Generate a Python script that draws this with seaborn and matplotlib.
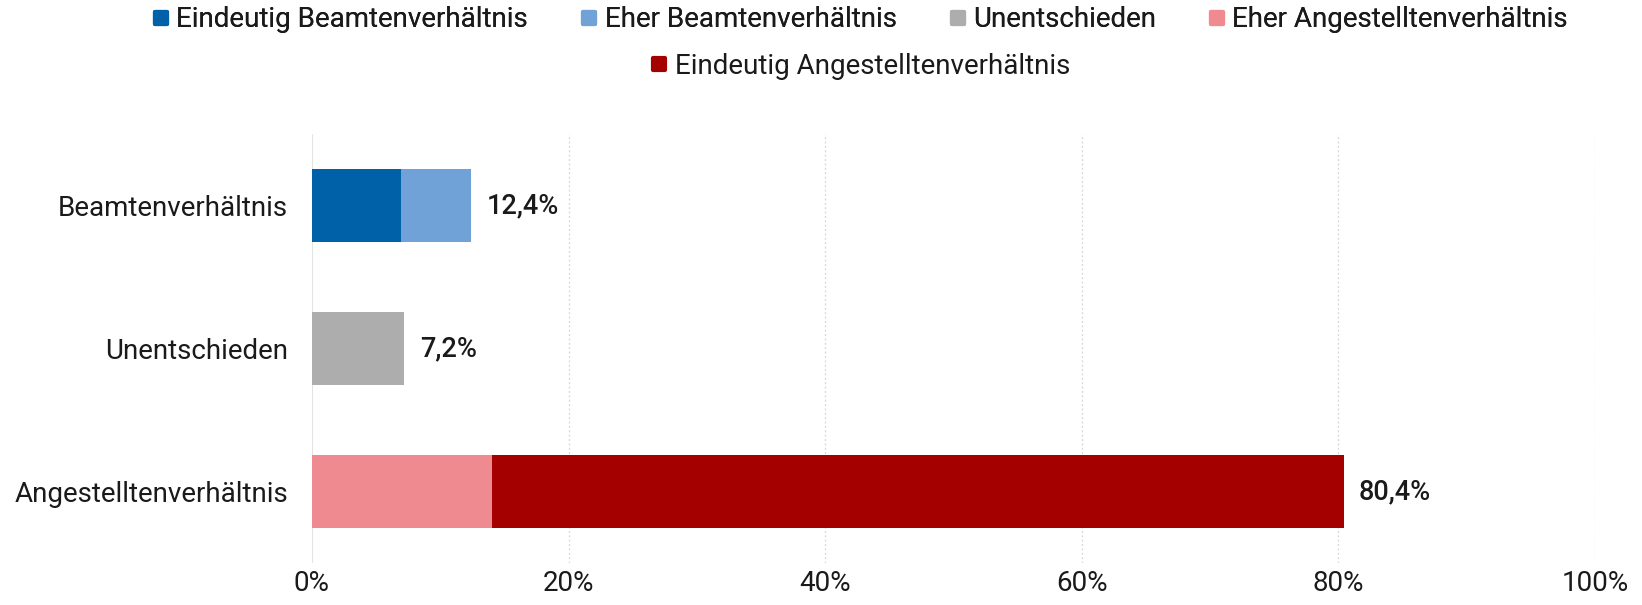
import seaborn as sns
import matplotlib.pyplot as plt
from matplotlib.lines import Line2D
from matplotlib.markers import MarkerStyle
from matplotlib.ticker import PercentFormatter

# chart data
categories = ['Beamtenverhältnis', 'Unentschieden', 'Angestelltenverhältnis']
series_names = ['Eindeutig Beamtenverhältnis', 'Eher Beamtenverhältnis', 'Unentschieden',
                'Eher Angestelltenverhältnis', 'Eindeutig Angestelltenverhältnis']
eindeutig_beamten = [6.9, 0, 0]
eher_beamten = [5.5, 0, 0]
unentschieden = [0, 7.2, 0]
eher_angestellten = [0, 0, 14.0]
eindeutig_angestellten = [0, 0, 66.4]
totals = ['12,4%', '7,2%', '80,4%']
colors = ['#0060a8', '#70a1d7', '#adadad', '#f08a91', '#a50000']

sns.set_theme(style='white')
plt.rcParams['font.family'] = ['Roboto', 'DejaVu Sans']
plt.rcParams['text.color'] = '#1a1a1a'

fig = plt.figure(figsize=(16.42, 6.05), dpi=100)
ax = fig.add_axes([0.19, 0.0694, 0.7814, 0.7091])

series = [eindeutig_beamten, eher_beamten, unentschieden, eher_angestellten, eindeutig_angestellten]
left = [0, 0, 0]
for vals, col in zip(series, colors):
    sns.barplot(x=vals, y=categories, order=categories, orient='y', color=col,
                saturation=1, width=0.51, left=list(left), linewidth=0, ax=ax)
    left = [l + v for l, v in zip(left, vals)]

# value labels at the end of the bars
for i, (end, txt) in enumerate(zip(left, totals)):
    ax.text(end + 1.2, i, txt, va='center', ha='left', fontsize=19.5,
            fontweight='medium', color='#1a1a1a')

ax.set_xlim(0, 100)
ax.set_ylim(2.5, -0.5)
ax.xaxis.set_major_formatter(PercentFormatter(decimals=0))
ax.set_xticks([0, 20, 40, 60, 80, 100])
ax.set_xlabel('')
ax.set_ylabel('')
ax.tick_params(axis='x', labelsize=20, colors='#1a1a1a', length=0, pad=5)
ax.tick_params(axis='y', labelsize=20, colors='#1a1a1a', length=0, pad=17)
for s in ax.spines.values():
    s.set_visible(False)
for xv in [20, 40, 60, 80, 100]:
    ax.axvline(xv, color='#d6d6d6', linestyle=(0, (1.5, 2)), linewidth=0.9, zorder=0)
ax.axvline(0, color='#e3e3e3', linewidth=1.5, zorder=0)

rounded = MarkerStyle('s', joinstyle='round')
handles = [Line2D([], [], marker=rounded, linestyle='', markersize=8, markeredgewidth=3,
                  color=c, markeredgecolor=c) for c in colors]
leg1 = fig.legend(handles[:4], series_names[:4], loc='center', bbox_to_anchor=(0.524, 0.967),
                  ncol=4, frameon=False, fontsize=20, handletextpad=0.25, columnspacing=1.9,
                  handlelength=0.6)
fig.add_artist(leg1)
fig.legend(handles[4:], series_names[4:], loc='center', bbox_to_anchor=(0.524, 0.89),
           ncol=1, frameon=False, fontsize=20, handletextpad=0.25, handlelength=0.6)

fig.savefig('out.png', dpi=100)
